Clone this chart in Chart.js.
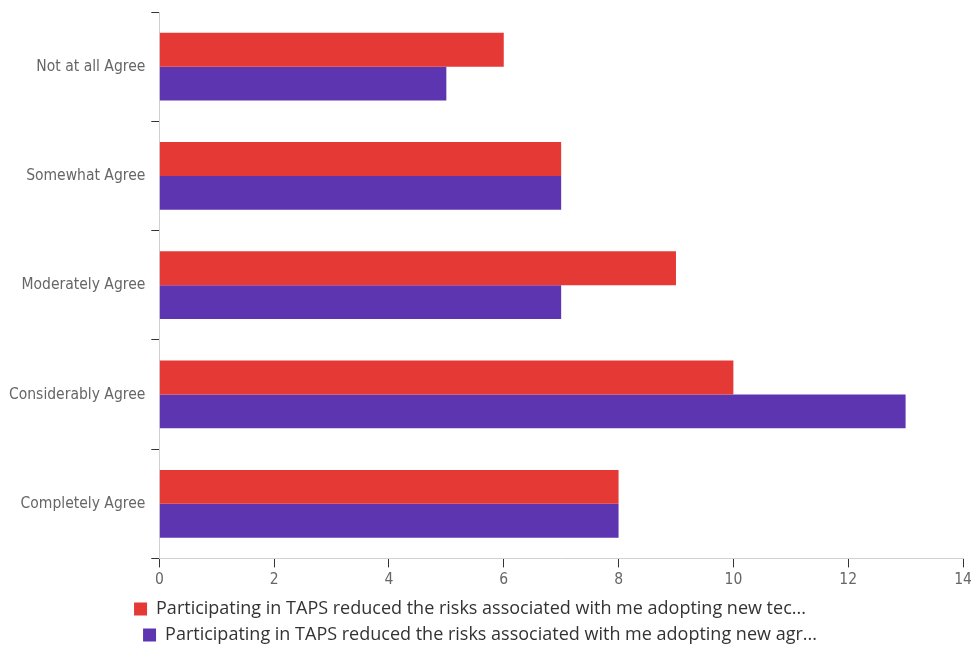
<!DOCTYPE html>
<html>
<head>
<meta charset="utf-8">
<script src="https://cdn.jsdelivr.net/npm/chart.js@4/dist/chart.umd.min.js"></script>
<style>
  html, body { margin: 0; padding: 0; background: #fff; }
  #wrap { width: 971px; height: 648px; position: relative; }
</style>
</head>
<body>
<div id="wrap"><canvas id="c"></canvas></div>
<script>
const categories = [
  "Not at all Agree",
  "Somewhat Agree",
  "Moderately Agree",
  "Considerably Agree",
  "Completely Agree"
];
const seriesNames = [
  "Participating in TAPS reduced the risks associated with me adopting new tec...",
  "Participating in TAPS reduced the risks associated with me adopting new agr..."
];
const technologyCounts = [6, 7, 9, 10, 8];
const practiceCounts = [5, 7, 7, 13, 8];
const xTicks = [0, 2, 4, 6, 8, 10, 12, 14];

const TICK_FONT = "'Liberation Sans Narrow', 'DejaVu Sans Condensed', 'Roboto', sans-serif";
const LEGEND_FONT = "'Open Sans', 'Noto Sans', sans-serif";

// Nudge the legend rows: the block sits a little left of centre, second row slightly indented.
const legendNudge = {
  id: "legendNudge",
  afterLayout(chart) {
    const lg = chart.legend;
    if (!lg) return;
    lg.left -= 17;
    lg.right -= 17;
    if (lg.lineWidths && lg.lineWidths.length > 1) lg.lineWidths[1] -= 20;
  }
};

new Chart(document.getElementById("c"), {
  type: "bar",
  data: {
    labels: categories,
    datasets: [
      {
        label: seriesNames[0],
        data: technologyCounts,
        backgroundColor: "#e53935",
        borderWidth: 0,
        categoryPercentage: 0.62,
        barPercentage: 1.0
      },
      {
        label: seriesNames[1],
        data: practiceCounts,
        backgroundColor: "#5e35b1",
        borderWidth: 0,
        categoryPercentage: 0.62,
        barPercentage: 1.0
      }
    ]
  },
  options: {
    indexAxis: "y",
    responsive: true,
    maintainAspectRatio: false,
    animation: false,
    layout: { padding: { top: 12, left: 3, right: 0, bottom: -6 } },
    scales: {
      x: {
        min: 0,
        max: 14,
        afterBuildTicks: (axis) => { axis.ticks = xTicks.map(v => ({ value: v })); },
        afterFit: (axis) => { axis.paddingRight = 8; },
        grid: { drawOnChartArea: false, drawTicks: true, tickLength: 9, color: "#333" },
        border: { color: "#d0d0d0", width: 1 },
        ticks: { color: "#666", font: { family: TICK_FONT, size: 15.5 }, padding: 3 }
      },
      y: {
        afterFit: (axis) => { axis.paddingTop = 0; axis.paddingBottom = 0; },
        grid: { drawOnChartArea: false, drawTicks: true, tickLength: 8, color: "#333", offset: true },
        border: { color: "#d0d0d0", width: 1 },
        ticks: { color: "#666", font: { family: TICK_FONT, size: 15.5 }, padding: 6 }
      }
    },
    plugins: {
      legend: {
        position: "bottom",
        maxWidth: 900,
        labels: {
          boxWidth: 13,
          boxHeight: 13,
          color: "#333",
          font: { family: LEGEND_FONT, size: 18 },
          padding: 8
        }
      },
      tooltip: { enabled: false }
    }
  },
  plugins: [legendNudge]
});
</script>
</body>
</html>
